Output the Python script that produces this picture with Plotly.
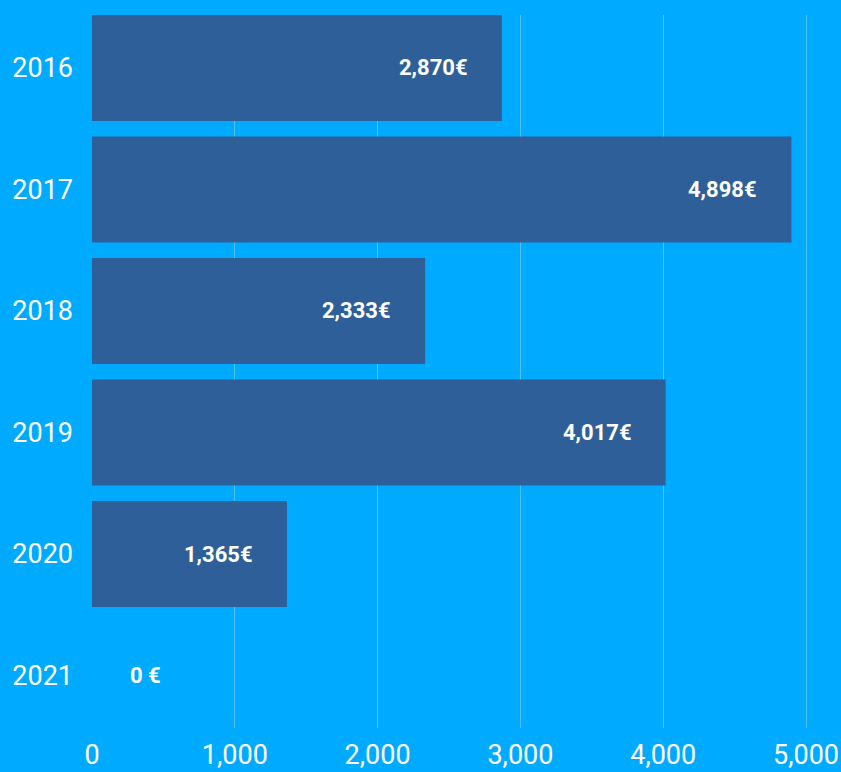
import plotly.graph_objects as go

# Yearly totals in euros
years = ["2016", "2017", "2018", "2019", "2020", "2021"]
amounts = [2870, 4898, 2333, 4017, 1365, 0]
x_ticks = [0, 1000, 2000, 3000, 4000, 5000]

BG = "#00abff"
BAR = "#2e5f98"
FONT = "Roboto"


def euro_label(v):
    return f"{v:,}€" if v else "0 €"


fig = go.Figure()
fig.add_trace(go.Bar(
    y=years,
    x=amounts,
    orientation="h",
    marker=dict(color=BAR, line=dict(width=0)),
    hoverinfo="skip",
))

# value labels inside the bar ends (category axis positions are serial indices)
for i, v in enumerate(amounts):
    fig.add_annotation(
        x=v, y=i, xref="x", yref="y",
        text=f"<b>{euro_label(v)}</b>",
        showarrow=False,
        xanchor="right" if v else "left",
        xshift=-32 if v else 36,
        font=dict(family=FONT, size=22, color="white"),
    )

fig.update_layout(
    width=841, height=772,
    margin=dict(l=92, r=0, t=15, b=44),
    paper_bgcolor=BG,
    plot_bgcolor=BG,
    showlegend=False,
    bargap=0.128,
    font=dict(family=FONT, color="white", size=27),
)
fig.update_xaxes(
    range=[0, 5245],
    tickvals=x_ticks,
    tickformat=",",
    showgrid=True,
    gridcolor="rgba(255,255,255,0.3)",
    gridwidth=1,
    zeroline=False,
    showline=False,
    ticks="",
    automargin=False,
    ticklabelstandoff=8,
    tickfont=dict(family=FONT, size=27, color="white"),
)
fig.update_yaxes(
    type="category",
    range=[5.432, -0.436],
    showgrid=False,
    zeroline=False,
    showline=False,
    ticks="",
    automargin=False,
    ticklabelstandoff=18,
    tickfont=dict(family=FONT, size=27, color="white"),
)

fig.write_html("out.html")
